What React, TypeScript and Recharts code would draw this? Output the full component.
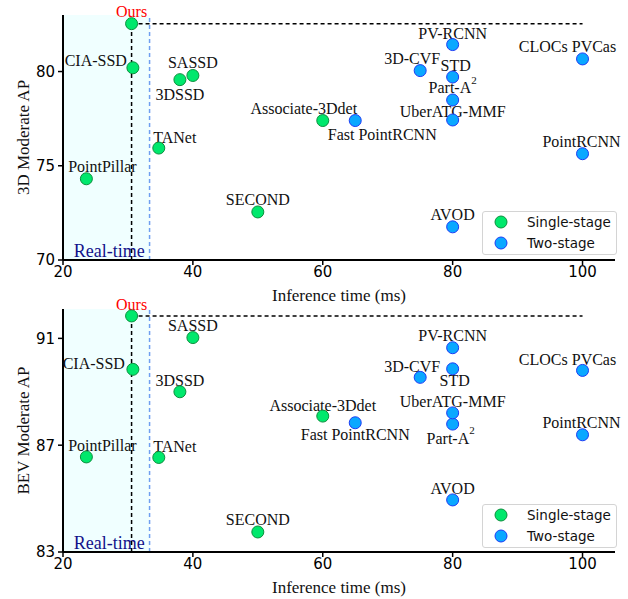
import React from 'react';
import { ScatterChart, Scatter, XAxis, YAxis, ReferenceArea, ReferenceLine, Legend } from 'recharts';

// ---------- data ----------
const singleNames = ['Ours', 'CIA-SSD', 'SASSD', '3DSSD', 'TANet', 'PointPillar', 'SECOND', 'Associate-3Ddet'];
const singleTime = [30.56, 30.76, 40, 38, 34.75, 23.6, 50, 60];
const single3D = [82.54, 80.2, 79.79, 79.57, 75.94, 74.31, 72.55, 77.4];
const singleBEV = [91.84, 89.84, 91.03, 89.0, 86.54, 86.56, 83.75, 88.09];

const twoNames = ['Fast PointRCNN', 'PV-RCNN', '3D-CVF', 'STD', 'Part-A2', 'UberATG-MMF', 'CLOCs PVCas', 'PointRCNN', 'AVOD'];
const twoTime = [65, 80, 75, 80, 80, 80, 100, 100, 80];
const two3D = [77.4, 81.43, 80.05, 79.71, 78.49, 77.43, 80.67, 75.64, 71.76];
const twoBEV = [87.84, 90.65, 89.54, 89.86, 87.79, 88.21, 89.8, 87.39, 84.95];

const xTicks = [20, 40, 60, 80, 100];
const xDomain = [20, 105];
const yTicks3D = [70, 75, 80];
const yDomain3D = [70, 83];
const yTicksBEV = [83, 87, 91];
const yDomainBEV = [83, 92.1];
const realTimeLimit = 33.33;
const dashedEndX = 100;

// ---------- styles ----------
const GREEN = '#00e86c';
const GREEN_EDGE = '#0b8f3d';
const BLUE = '#0aa8ff';
const BLUE_EDGE = '#1c3cf5';
const SERIF = "'Liberation Serif', 'Times New Roman', serif";
const SANS = "'DejaVu Sans', sans-serif";

type Pos = { dx: number; dy: number; anchor?: 'start' | 'middle' | 'end' };

const labelPos3D: Record<string, Pos> = {
  'Ours': { dx: 0, dy: -12 },
  'CIA-SSD': { dx: -6, dy: -7, anchor: 'end' },
  'SASSD': { dx: 0, dy: -13 },
  '3DSSD': { dx: 0, dy: 15 },
  'TANet': { dx: 16, dy: -11 },
  'PointPillar': { dx: 16, dy: -12 },
  'SECOND': { dx: 0, dy: -12 },
  'Associate-3Ddet': { dx: -19, dy: -12 },
  'Fast PointRCNN': { dx: 27, dy: 14 },
  'PV-RCNN': { dx: 0, dy: -11 },
  '3D-CVF': { dx: -8, dy: -12 },
  'STD': { dx: 3, dy: -12 },
  'Part-A2': { dx: 0, dy: -12 },
  'UberATG-MMF': { dx: 0, dy: -8 },
  'CLOCs PVCas': { dx: -15, dy: -12 },
  'PointRCNN': { dx: -1, dy: -12 },
  'AVOD': { dx: 0, dy: -12 },
};

const labelPosBEV: Record<string, Pos> = {
  'Ours': { dx: 0, dy: -11 },
  'CIA-SSD': { dx: -8, dy: -6, anchor: 'end' },
  'SASSD': { dx: 0, dy: -12 },
  '3DSSD': { dx: 0, dy: -11 },
  'TANet': { dx: 16, dy: -11 },
  'PointPillar': { dx: 16, dy: -11 },
  'SECOND': { dx: 0, dy: -12 },
  'Associate-3Ddet': { dx: 0, dy: -11 },
  'Fast PointRCNN': { dx: 0, dy: 12 },
  'PV-RCNN': { dx: 0, dy: -12 },
  '3D-CVF': { dx: -8, dy: -11 },
  'STD': { dx: 2, dy: 12 },
  'Part-A2': { dx: -2, dy: 14 },
  'UberATG-MMF': { dx: 0, dy: -11 },
  'CLOCs PVCas': { dx: -15, dy: -11 },
  'PointRCNN': { dx: -1, dy: -12 },
  'AVOD': { dx: 0, dy: -11 },
};

const renderName = (name: string) =>
  name === 'Part-A2' ? (
    <>
      Part-A
      <tspan dy={-8} fontSize={11}>2</tspan>
    </>
  ) : (
    name
  );

const makeShape = (fill: string, edge: string, pos: Record<string, Pos>) => (props: any) => {
  const { cx, cy, payload } = props;
  const p = pos[payload.name] ?? { dx: 0, dy: -12 };
  return (
    <g>
      <text
        x={cx + p.dx}
        y={cy + p.dy}
        textAnchor={p.anchor ?? 'middle'}
        dominantBaseline="central"
        fontFamily={SERIF}
        fontSize={16}
        fill={payload.name === 'Ours' ? '#ff0000' : '#111111'}
      >
        {renderName(payload.name)}
      </text>
      <circle cx={cx} cy={cy} r={6} fill={fill} stroke={edge} strokeWidth={1} />
    </g>
  );
};

const build = (names: string[], xs: number[], ys: number[]) =>
  names.map((n, i) => ({ name: n, x: xs[i], y: ys[i] }));

const legendItems = [
  { name: 'Single-stage', fill: GREEN, edge: GREEN_EDGE },
  { name: 'Two-stage', fill: BLUE, edge: BLUE_EDGE },
];

const LegendBox = () => (
  <div
    style={{
      width: 135,
      height: 44,
      boxSizing: 'border-box',
      border: '1px solid #d4d4d4',
      borderRadius: 3,
      background: 'rgba(255,255,255,0.85)',
      position: 'relative',
      fontFamily: SANS,
      fontSize: 13.5,
      color: '#111',
    }}
  >
    {legendItems.map((it, i) => (
      <div
        key={it.name}
        style={{ position: 'absolute', left: -1, top: i * 20.6, height: 20, display: 'flex', alignItems: 'center' }}
      >
        <svg width={40} height={20} style={{ display: 'block' }}>
          <circle cx={19} cy={10} r={6} fill={it.fill} stroke={it.edge} strokeWidth={1} />
        </svg>
        <span style={{ marginLeft: 5, whiteSpace: 'nowrap' }}>{it.name}</span>
      </div>
    ))}
  </div>
);

type PanelProps = {
  top: number;
  height: number;
  marginTop: number;
  xAxisHeight: number;
  yDomain: number[];
  yTicks: number[];
  yLabel: string;
  single: { name: string; x: number; y: number }[];
  two: { name: string; x: number; y: number }[];
  pos: Record<string, Pos>;
  legendTop: number;
};

const Panel = (p: PanelProps) => {
  const ours = p.single[0];
  return (
    <div style={{ position: 'absolute', left: 0, top: p.top }}>
      <ScatterChart width={628} height={p.height} margin={{ top: p.marginTop, right: 13, bottom: 0, left: 0 }}>
        <ReferenceArea
          x1={xDomain[0]}
          x2={realTimeLimit}
          fill="#f0ffff"
          fillOpacity={1}
          stroke="none"
          label={(lp: any) => {
            const vb = lp.viewBox;
            return (
              <text
                x={vb.x + vb.width / 2 + 3}
                y={vb.y + vb.height - 9}
                textAnchor="middle"
                dominantBaseline="central"
                fontFamily={SERIF}
                fontSize={18}
                fill="#12128a"
              >
                Real-time
              </text>
            );
          }}
        />
        <ReferenceLine x={realTimeLimit} stroke="#6f9ff0" strokeWidth={1.5} strokeDasharray="4 3" />
        <ReferenceLine
          segment={[
            { x: ours.x, y: p.yDomain[0] },
            { x: ours.x, y: ours.y },
          ]}
          stroke="#000"
          strokeWidth={1.5}
          strokeDasharray="4 3"
        />
        <ReferenceLine
          segment={[
            { x: ours.x, y: ours.y },
            { x: dashedEndX, y: ours.y },
          ]}
          stroke="#000"
          strokeWidth={1.5}
          strokeDasharray="4 3"
        />
        <XAxis
          type="number"
          dataKey="x"
          domain={xDomain}
          ticks={xTicks}
          height={p.xAxisHeight}
          axisLine={{ stroke: '#000', strokeWidth: 2 }}
          tickLine={{ stroke: '#000', strokeWidth: 1.5 }}
          tickSize={5}
          tickMargin={1}
          tick={{ fill: '#000', fontSize: 15, fontFamily: SANS }}
          label={(lp: any) => {
            const vb = lp.viewBox;
            return (
              <text
                x={vb.x + vb.width / 2}
                y={vb.y + 35}
                textAnchor="middle"
                dominantBaseline="central"
                fontFamily={SERIF}
                fontSize={17}
                fill="#111"
              >
                Inference time (ms)
              </text>
            );
          }}
        />
        <YAxis
          type="number"
          dataKey="y"
          domain={p.yDomain}
          ticks={p.yTicks}
          width={63}
          axisLine={{ stroke: '#000', strokeWidth: 2 }}
          tickLine={{ stroke: '#000', strokeWidth: 1.5 }}
          tickSize={5}
          tickMargin={3}
          tick={{ fill: '#000', fontSize: 15, fontFamily: SANS }}
          label={(lp: any) => {
            const vb = lp.viewBox;
            const cx = 23;
            const cy = vb.y + vb.height / 2;
            return (
              <text
                x={cx}
                y={cy}
                transform={`rotate(-90 ${cx} ${cy})`}
                textAnchor="middle"
                dominantBaseline="central"
                fontFamily={SERIF}
                fontSize={17}
                fill="#111"
              >
                {p.yLabel}
              </text>
            );
          }}
        />
        <Scatter
          name="Single-stage"
          data={p.single}
          fill={GREEN}
          isAnimationActive={false}
          shape={makeShape(GREEN, GREEN_EDGE, p.pos)}
        />
        <Scatter
          name="Two-stage"
          data={p.two}
          fill={BLUE}
          isAnimationActive={false}
          shape={makeShape(BLUE, BLUE_EDGE, p.pos)}
        />
        <Legend
          layout="vertical"
          align="center"
          verticalAlign="middle"
          content={() => <LegendBox />}
          wrapperStyle={{ left: 482, top: p.legendTop, width: 135, height: 44 }}
        />
      </ScatterChart>
    </div>
  );
};

export default function App() {
  return (
    <div style={{ position: 'absolute', left: 0, top: 0, width: 628, height: 599, background: '#fff' }}>
      <Panel
        top={0}
        height={310}
        marginTop={15}
        xAxisHeight={50}
        yDomain={yDomain3D}
        yTicks={yTicks3D}
        yLabel="3D Moderate AP"
        single={build(singleNames, singleTime, single3D)}
        two={build(twoNames, twoTime, two3D)}
        pos={labelPos3D}
        legendTop={211}
      />
      <Panel
        top={290}
        height={309}
        marginTop={19}
        xAxisHeight={47}
        yDomain={yDomainBEV}
        yTicks={yTicksBEV}
        yLabel="BEV Moderate AP"
        single={build(singleNames, singleTime, singleBEV)}
        two={build(twoNames, twoTime, twoBEV)}
        pos={labelPosBEV}
        legendTop={214}
      />
    </div>
  );
}
